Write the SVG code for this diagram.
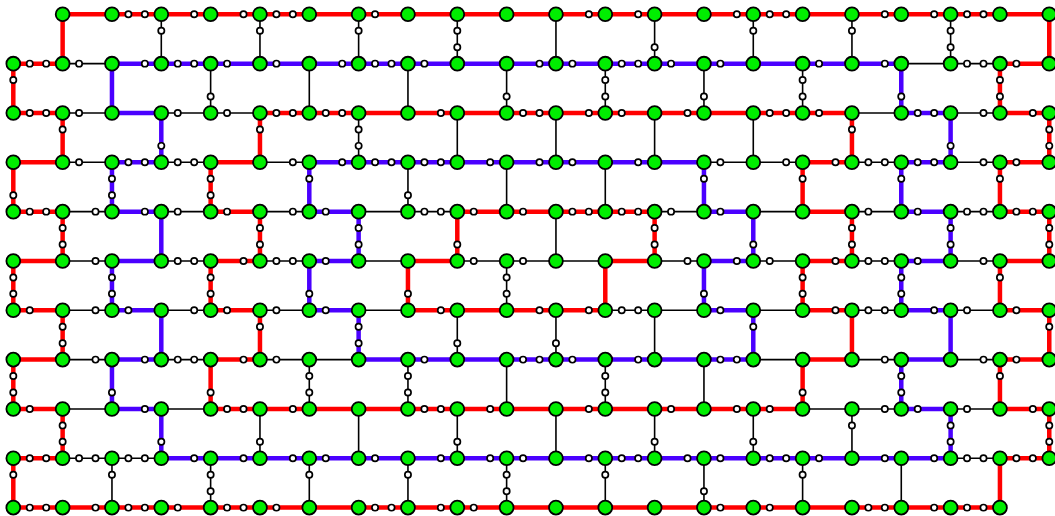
<svg xmlns="http://www.w3.org/2000/svg" width="1055" height="516" viewBox="0 0 1055 516">
<style>
.r,.b,.k{fill:none;vector-effect:non-scaling-stroke;stroke-linecap:butt}
.r{stroke:#ff0000;stroke-width:4.5px}
.b{stroke:#4a00ff;stroke-width:4.5px}
.k{stroke:#000;stroke-width:1.6px}
.big circle{fill:#00ee00;stroke:#000;stroke-width:1.8px;vector-effect:non-scaling-stroke}
.sub circle{fill:#fff;stroke:#000;stroke-width:1.7px;vector-effect:non-scaling-stroke}
</style>
<rect width="1055" height="516" fill="#fff"/>
<g transform="translate(13.3,14.3) scale(16.444)">
<g id="connectors">
<path class="r" d="M3 0h3"/><path class="r" d="M6 0h3"/><path class="r" d="M9 0h3"/><path class="r" d="M12 0h3"/><path class="r" d="M15 0h3"/><path class="r" d="M18 0h3"/><path class="r" d="M21 0h3"/><path class="r" d="M24 0h3"/><path class="r" d="M27 0h3"/><path class="r" d="M30 0h3"/><path class="r" d="M33 0h3"/><path class="r" d="M36 0h3"/><path class="r" d="M39 0h3"/><path class="r" d="M42 0h3"/><path class="r" d="M45 0h3"/><path class="r" d="M48 0h3"/><path class="r" d="M51 0h3"/><path class="r" d="M54 0h3"/><path class="r" d="M57 0h3"/><path class="r" d="M60 0h3"/>
<path class="r" d="M0 3h3"/><path class="k" d="M3 3h3"/><path class="b" d="M6 3h3"/><path class="b" d="M9 3h3"/><path class="b" d="M12 3h3"/><path class="b" d="M15 3h3"/><path class="b" d="M18 3h3"/><path class="b" d="M21 3h3"/><path class="b" d="M24 3h3"/><path class="b" d="M27 3h3"/><path class="b" d="M30 3h3"/><path class="b" d="M33 3h3"/><path class="b" d="M36 3h3"/><path class="b" d="M39 3h3"/><path class="b" d="M42 3h3"/><path class="b" d="M45 3h3"/><path class="b" d="M48 3h3"/><path class="b" d="M51 3h3"/><path class="k" d="M54 3h3"/><path class="k" d="M57 3h3"/><path class="r" d="M60 3h3"/>
<path class="r" d="M0 6h3"/><path class="k" d="M3 6h3"/><path class="b" d="M6 6h3"/><path class="k" d="M9 6h3"/><path class="k" d="M12 6h3"/><path class="r" d="M15 6h3"/><path class="r" d="M18 6h3"/><path class="r" d="M21 6h3"/><path class="r" d="M24 6h3"/><path class="r" d="M27 6h3"/><path class="r" d="M30 6h3"/><path class="r" d="M33 6h3"/><path class="r" d="M36 6h3"/><path class="r" d="M39 6h3"/><path class="r" d="M42 6h3"/><path class="r" d="M45 6h3"/><path class="r" d="M48 6h3"/><path class="k" d="M51 6h3"/><path class="b" d="M54 6h3"/><path class="k" d="M57 6h3"/><path class="r" d="M60 6h3"/>
<path class="r" d="M0 9h3"/><path class="k" d="M3 9h3"/><path class="b" d="M6 9h3"/><path class="k" d="M9 9h3"/><path class="r" d="M12 9h3"/><path class="k" d="M15 9h3"/><path class="b" d="M18 9h3"/><path class="b" d="M21 9h3"/><path class="b" d="M24 9h3"/><path class="b" d="M27 9h3"/><path class="b" d="M30 9h3"/><path class="b" d="M33 9h3"/><path class="b" d="M36 9h3"/><path class="b" d="M39 9h3"/><path class="k" d="M42 9h3"/><path class="k" d="M45 9h3"/><path class="r" d="M48 9h3"/><path class="k" d="M51 9h3"/><path class="b" d="M54 9h3"/><path class="k" d="M57 9h3"/><path class="r" d="M60 9h3"/>
<path class="r" d="M0 12h3"/><path class="k" d="M3 12h3"/><path class="b" d="M6 12h3"/><path class="k" d="M9 12h3"/><path class="r" d="M12 12h3"/><path class="k" d="M15 12h3"/><path class="b" d="M18 12h3"/><path class="k" d="M21 12h3"/><path class="k" d="M24 12h3"/><path class="r" d="M27 12h3"/><path class="r" d="M30 12h3"/><path class="r" d="M33 12h3"/><path class="r" d="M36 12h3"/><path class="k" d="M39 12h3"/><path class="b" d="M42 12h3"/><path class="k" d="M45 12h3"/><path class="r" d="M48 12h3"/><path class="k" d="M51 12h3"/><path class="b" d="M54 12h3"/><path class="k" d="M57 12h3"/><path class="r" d="M60 12h3"/>
<path class="r" d="M0 15h3"/><path class="k" d="M3 15h3"/><path class="b" d="M6 15h3"/><path class="k" d="M9 15h3"/><path class="r" d="M12 15h3"/><path class="k" d="M15 15h3"/><path class="b" d="M18 15h3"/><path class="k" d="M21 15h3"/><path class="r" d="M24 15h3"/><path class="k" d="M27 15h3"/><path class="k" d="M30 15h3"/><path class="k" d="M33 15h3"/><path class="r" d="M36 15h3"/><path class="k" d="M39 15h3"/><path class="b" d="M42 15h3"/><path class="k" d="M45 15h3"/><path class="r" d="M48 15h3"/><path class="k" d="M51 15h3"/><path class="b" d="M54 15h3"/><path class="k" d="M57 15h3"/><path class="r" d="M60 15h3"/>
<path class="r" d="M0 18h3"/><path class="k" d="M3 18h3"/><path class="b" d="M6 18h3"/><path class="k" d="M9 18h3"/><path class="r" d="M12 18h3"/><path class="k" d="M15 18h3"/><path class="b" d="M18 18h3"/><path class="k" d="M21 18h3"/><path class="r" d="M24 18h3"/><path class="r" d="M27 18h3"/><path class="r" d="M30 18h3"/><path class="r" d="M33 18h3"/><path class="k" d="M36 18h3"/><path class="k" d="M39 18h3"/><path class="b" d="M42 18h3"/><path class="k" d="M45 18h3"/><path class="r" d="M48 18h3"/><path class="k" d="M51 18h3"/><path class="b" d="M54 18h3"/><path class="k" d="M57 18h3"/><path class="r" d="M60 18h3"/>
<path class="r" d="M0 21h3"/><path class="k" d="M3 21h3"/><path class="b" d="M6 21h3"/><path class="k" d="M9 21h3"/><path class="r" d="M12 21h3"/><path class="k" d="M15 21h3"/><path class="k" d="M18 21h3"/><path class="b" d="M21 21h3"/><path class="b" d="M24 21h3"/><path class="b" d="M27 21h3"/><path class="b" d="M30 21h3"/><path class="b" d="M33 21h3"/><path class="b" d="M36 21h3"/><path class="b" d="M39 21h3"/><path class="b" d="M42 21h3"/><path class="k" d="M45 21h3"/><path class="r" d="M48 21h3"/><path class="k" d="M51 21h3"/><path class="b" d="M54 21h3"/><path class="k" d="M57 21h3"/><path class="r" d="M60 21h3"/>
<path class="r" d="M0 24h3"/><path class="k" d="M3 24h3"/><path class="b" d="M6 24h3"/><path class="k" d="M9 24h3"/><path class="r" d="M12 24h3"/><path class="r" d="M15 24h3"/><path class="r" d="M18 24h3"/><path class="r" d="M21 24h3"/><path class="r" d="M24 24h3"/><path class="r" d="M27 24h3"/><path class="r" d="M30 24h3"/><path class="r" d="M33 24h3"/><path class="r" d="M36 24h3"/><path class="r" d="M39 24h3"/><path class="r" d="M42 24h3"/><path class="r" d="M45 24h3"/><path class="k" d="M48 24h3"/><path class="k" d="M51 24h3"/><path class="b" d="M54 24h3"/><path class="k" d="M57 24h3"/><path class="r" d="M60 24h3"/>
<path class="r" d="M0 27h3"/><path class="k" d="M3 27h3"/><path class="k" d="M6 27h3"/><path class="b" d="M9 27h3"/><path class="b" d="M12 27h3"/><path class="b" d="M15 27h3"/><path class="b" d="M18 27h3"/><path class="b" d="M21 27h3"/><path class="b" d="M24 27h3"/><path class="b" d="M27 27h3"/><path class="b" d="M30 27h3"/><path class="b" d="M33 27h3"/><path class="b" d="M36 27h3"/><path class="b" d="M39 27h3"/><path class="b" d="M42 27h3"/><path class="b" d="M45 27h3"/><path class="b" d="M48 27h3"/><path class="b" d="M51 27h3"/><path class="b" d="M54 27h3"/><path class="k" d="M57 27h3"/><path class="r" d="M60 27h3"/>
<path class="r" d="M0 30h3"/><path class="r" d="M3 30h3"/><path class="r" d="M6 30h3"/><path class="r" d="M9 30h3"/><path class="r" d="M12 30h3"/><path class="r" d="M15 30h3"/><path class="r" d="M18 30h3"/><path class="r" d="M21 30h3"/><path class="r" d="M24 30h3"/><path class="r" d="M27 30h3"/><path class="r" d="M30 30h3"/><path class="r" d="M33 30h3"/><path class="r" d="M36 30h3"/><path class="r" d="M39 30h3"/><path class="r" d="M42 30h3"/><path class="r" d="M45 30h3"/><path class="r" d="M48 30h3"/><path class="r" d="M51 30h3"/><path class="r" d="M54 30h3"/><path class="r" d="M57 30h3"/>
<path class="r" d="M3 0v3"/><path class="k" d="M9 0v3"/><path class="k" d="M15 0v3"/><path class="k" d="M21 0v3"/><path class="k" d="M27 0v3"/><path class="k" d="M33 0v3"/><path class="k" d="M39 0v3"/><path class="k" d="M45 0v3"/><path class="k" d="M51 0v3"/><path class="k" d="M57 0v3"/><path class="r" d="M63 0v3"/>
<path class="r" d="M0 3v3"/><path class="b" d="M6 3v3"/><path class="k" d="M12 3v3"/><path class="k" d="M18 3v3"/><path class="k" d="M24 3v3"/><path class="k" d="M30 3v3"/><path class="k" d="M36 3v3"/><path class="k" d="M42 3v3"/><path class="k" d="M48 3v3"/><path class="b" d="M54 3v3"/><path class="r" d="M60 3v3"/>
<path class="r" d="M3 6v3"/><path class="b" d="M9 6v3"/><path class="r" d="M15 6v3"/><path class="k" d="M21 6v3"/><path class="k" d="M27 6v3"/><path class="k" d="M33 6v3"/><path class="k" d="M39 6v3"/><path class="k" d="M45 6v3"/><path class="r" d="M51 6v3"/><path class="b" d="M57 6v3"/><path class="r" d="M63 6v3"/>
<path class="r" d="M0 9v3"/><path class="b" d="M6 9v3"/><path class="r" d="M12 9v3"/><path class="b" d="M18 9v3"/><path class="k" d="M24 9v3"/><path class="k" d="M30 9v3"/><path class="k" d="M36 9v3"/><path class="b" d="M42 9v3"/><path class="r" d="M48 9v3"/><path class="b" d="M54 9v3"/><path class="r" d="M60 9v3"/>
<path class="r" d="M3 12v3"/><path class="b" d="M9 12v3"/><path class="r" d="M15 12v3"/><path class="b" d="M21 12v3"/><path class="r" d="M27 12v3"/><path class="k" d="M33 12v3"/><path class="r" d="M39 12v3"/><path class="b" d="M45 12v3"/><path class="r" d="M51 12v3"/><path class="b" d="M57 12v3"/><path class="r" d="M63 12v3"/>
<path class="r" d="M0 15v3"/><path class="b" d="M6 15v3"/><path class="r" d="M12 15v3"/><path class="b" d="M18 15v3"/><path class="r" d="M24 15v3"/><path class="k" d="M30 15v3"/><path class="r" d="M36 15v3"/><path class="b" d="M42 15v3"/><path class="r" d="M48 15v3"/><path class="b" d="M54 15v3"/><path class="r" d="M60 15v3"/>
<path class="r" d="M3 18v3"/><path class="b" d="M9 18v3"/><path class="r" d="M15 18v3"/><path class="b" d="M21 18v3"/><path class="k" d="M27 18v3"/><path class="k" d="M33 18v3"/><path class="k" d="M39 18v3"/><path class="b" d="M45 18v3"/><path class="r" d="M51 18v3"/><path class="b" d="M57 18v3"/><path class="r" d="M63 18v3"/>
<path class="r" d="M0 21v3"/><path class="b" d="M6 21v3"/><path class="r" d="M12 21v3"/><path class="k" d="M18 21v3"/><path class="k" d="M24 21v3"/><path class="k" d="M30 21v3"/><path class="k" d="M36 21v3"/><path class="k" d="M42 21v3"/><path class="r" d="M48 21v3"/><path class="b" d="M54 21v3"/><path class="r" d="M60 21v3"/>
<path class="r" d="M3 24v3"/><path class="b" d="M9 24v3"/><path class="k" d="M15 24v3"/><path class="k" d="M21 24v3"/><path class="k" d="M27 24v3"/><path class="k" d="M33 24v3"/><path class="k" d="M39 24v3"/><path class="k" d="M45 24v3"/><path class="k" d="M51 24v3"/><path class="b" d="M57 24v3"/><path class="r" d="M63 24v3"/>
<path class="r" d="M0 27v3"/><path class="k" d="M6 27v3"/><path class="k" d="M12 27v3"/><path class="k" d="M18 27v3"/><path class="k" d="M24 27v3"/><path class="k" d="M30 27v3"/><path class="k" d="M36 27v3"/><path class="k" d="M42 27v3"/><path class="k" d="M48 27v3"/><path class="k" d="M54 27v3"/><path class="r" d="M60 27v3"/>
</g>
<g id="subnodes" class="sub">
<g id="s7_0"><circle cx="7" cy="0" r=".19"/></g><g id="s8_0"><circle cx="8" cy="0" r=".19"/></g><g id="s11_0"><circle cx="11" cy="0" r=".19"/></g><g id="s14_0"><circle cx="14" cy="0" r=".19"/></g><g id="s16_0"><circle cx="16" cy="0" r=".19"/></g><g id="s17_0"><circle cx="17" cy="0" r=".19"/></g><g id="s22_0"><circle cx="22" cy="0" r=".19"/></g><g id="s35_0"><circle cx="35" cy="0" r=".19"/></g><g id="s38_0"><circle cx="38" cy="0" r=".19"/></g><g id="s44_0"><circle cx="44" cy="0" r=".19"/></g><g id="s46_0"><circle cx="46" cy="0" r=".19"/></g><g id="s47_0"><circle cx="47" cy="0" r=".19"/></g><g id="s53_0"><circle cx="53" cy="0" r=".19"/></g><g id="s56_0"><circle cx="56" cy="0" r=".19"/></g><g id="s58_0"><circle cx="58" cy="0" r=".19"/></g><g id="s59_0"><circle cx="59" cy="0" r=".19"/></g>
<g id="s1_3"><circle cx="1" cy="3" r=".19"/></g><g id="s2_3"><circle cx="2" cy="3" r=".19"/></g><g id="s4_3"><circle cx="4" cy="3" r=".19"/></g><g id="s8_3"><circle cx="8" cy="3" r=".19"/></g><g id="s10_3"><circle cx="10" cy="3" r=".19"/></g><g id="s11_3"><circle cx="11" cy="3" r=".19"/></g><g id="s13_3"><circle cx="13" cy="3" r=".19"/></g><g id="s16_3"><circle cx="16" cy="3" r=".19"/></g><g id="s20_3"><circle cx="20" cy="3" r=".19"/></g><g id="s22_3"><circle cx="22" cy="3" r=".19"/></g><g id="s23_3"><circle cx="23" cy="3" r=".19"/></g><g id="s25_3"><circle cx="25" cy="3" r=".19"/></g><g id="s32_3"><circle cx="32" cy="3" r=".19"/></g><g id="s34_3"><circle cx="34" cy="3" r=".19"/></g><g id="s37_3"><circle cx="37" cy="3" r=".19"/></g><g id="s38_3"><circle cx="38" cy="3" r=".19"/></g><g id="s40_3"><circle cx="40" cy="3" r=".19"/></g><g id="s43_3"><circle cx="43" cy="3" r=".19"/></g><g id="s49_3"><circle cx="49" cy="3" r=".19"/></g><g id="s53_3"><circle cx="53" cy="3" r=".19"/></g><g id="s58_3"><circle cx="58" cy="3" r=".19"/></g><g id="s59_3"><circle cx="59" cy="3" r=".19"/></g><g id="s61_3"><circle cx="61" cy="3" r=".19"/></g>
<g id="s1_6"><circle cx="1" cy="6" r=".19"/></g><g id="s2_6"><circle cx="2" cy="6" r=".19"/></g><g id="s4_6"><circle cx="4" cy="6" r=".19"/></g><g id="s10_6"><circle cx="10" cy="6" r=".19"/></g><g id="s13_6"><circle cx="13" cy="6" r=".19"/></g><g id="s16_6"><circle cx="16" cy="6" r=".19"/></g><g id="s17_6"><circle cx="17" cy="6" r=".19"/></g><g id="s19_6"><circle cx="19" cy="6" r=".19"/></g><g id="s20_6"><circle cx="20" cy="6" r=".19"/></g><g id="s26_6"><circle cx="26" cy="6" r=".19"/></g><g id="s31_6"><circle cx="31" cy="6" r=".19"/></g><g id="s32_6"><circle cx="32" cy="6" r=".19"/></g><g id="s35_6"><circle cx="35" cy="6" r=".19"/></g><g id="s37_6"><circle cx="37" cy="6" r=".19"/></g><g id="s41_6"><circle cx="41" cy="6" r=".19"/></g><g id="s46_6"><circle cx="46" cy="6" r=".19"/></g><g id="s47_6"><circle cx="47" cy="6" r=".19"/></g><g id="s49_6"><circle cx="49" cy="6" r=".19"/></g><g id="s55_6"><circle cx="55" cy="6" r=".19"/></g><g id="s56_6"><circle cx="56" cy="6" r=".19"/></g><g id="s59_6"><circle cx="59" cy="6" r=".19"/></g><g id="s62_6"><circle cx="62" cy="6" r=".19"/></g>
<g id="s4_9"><circle cx="4" cy="9" r=".19"/></g><g id="s7_9"><circle cx="7" cy="9" r=".19"/></g><g id="s8_9"><circle cx="8" cy="9" r=".19"/></g><g id="s10_9"><circle cx="10" cy="9" r=".19"/></g><g id="s11_9"><circle cx="11" cy="9" r=".19"/></g><g id="s17_9"><circle cx="17" cy="9" r=".19"/></g><g id="s20_9"><circle cx="20" cy="9" r=".19"/></g><g id="s22_9"><circle cx="22" cy="9" r=".19"/></g><g id="s23_9"><circle cx="23" cy="9" r=".19"/></g><g id="s25_9"><circle cx="25" cy="9" r=".19"/></g><g id="s26_9"><circle cx="26" cy="9" r=".19"/></g><g id="s29_9"><circle cx="29" cy="9" r=".19"/></g><g id="s32_9"><circle cx="32" cy="9" r=".19"/></g><g id="s34_9"><circle cx="34" cy="9" r=".19"/></g><g id="s38_9"><circle cx="38" cy="9" r=".19"/></g><g id="s43_9"><circle cx="43" cy="9" r=".19"/></g><g id="s47_9"><circle cx="47" cy="9" r=".19"/></g><g id="s50_9"><circle cx="50" cy="9" r=".19"/></g><g id="s52_9"><circle cx="52" cy="9" r=".19"/></g><g id="s53_9"><circle cx="53" cy="9" r=".19"/></g><g id="s55_9"><circle cx="55" cy="9" r=".19"/></g><g id="s56_9"><circle cx="56" cy="9" r=".19"/></g><g id="s59_9"><circle cx="59" cy="9" r=".19"/></g><g id="s61_9"><circle cx="61" cy="9" r=".19"/></g>
<g id="s1_12"><circle cx="1" cy="12" r=".19"/></g><g id="s2_12"><circle cx="2" cy="12" r=".19"/></g><g id="s5_12"><circle cx="5" cy="12" r=".19"/></g><g id="s8_12"><circle cx="8" cy="12" r=".19"/></g><g id="s10_12"><circle cx="10" cy="12" r=".19"/></g><g id="s13_12"><circle cx="13" cy="12" r=".19"/></g><g id="s17_12"><circle cx="17" cy="12" r=".19"/></g><g id="s19_12"><circle cx="19" cy="12" r=".19"/></g><g id="s25_12"><circle cx="25" cy="12" r=".19"/></g><g id="s26_12"><circle cx="26" cy="12" r=".19"/></g><g id="s28_12"><circle cx="28" cy="12" r=".19"/></g><g id="s31_12"><circle cx="31" cy="12" r=".19"/></g><g id="s34_12"><circle cx="34" cy="12" r=".19"/></g><g id="s35_12"><circle cx="35" cy="12" r=".19"/></g><g id="s37_12"><circle cx="37" cy="12" r=".19"/></g><g id="s38_12"><circle cx="38" cy="12" r=".19"/></g><g id="s40_12"><circle cx="40" cy="12" r=".19"/></g><g id="s43_12"><circle cx="43" cy="12" r=".19"/></g><g id="s52_12"><circle cx="52" cy="12" r=".19"/></g><g id="s55_12"><circle cx="55" cy="12" r=".19"/></g><g id="s58_12"><circle cx="58" cy="12" r=".19"/></g><g id="s59_12"><circle cx="59" cy="12" r=".19"/></g><g id="s61_12"><circle cx="61" cy="12" r=".19"/></g><g id="s62_12"><circle cx="62" cy="12" r=".19"/></g>
<g id="s5_15"><circle cx="5" cy="15" r=".19"/></g><g id="s10_15"><circle cx="10" cy="15" r=".19"/></g><g id="s11_15"><circle cx="11" cy="15" r=".19"/></g><g id="s14_15"><circle cx="14" cy="15" r=".19"/></g><g id="s16_15"><circle cx="16" cy="15" r=".19"/></g><g id="s17_15"><circle cx="17" cy="15" r=".19"/></g><g id="s19_15"><circle cx="19" cy="15" r=".19"/></g><g id="s28_15"><circle cx="28" cy="15" r=".19"/></g><g id="s31_15"><circle cx="31" cy="15" r=".19"/></g><g id="s41_15"><circle cx="41" cy="15" r=".19"/></g><g id="s44_15"><circle cx="44" cy="15" r=".19"/></g><g id="s46_15"><circle cx="46" cy="15" r=".19"/></g><g id="s50_15"><circle cx="50" cy="15" r=".19"/></g><g id="s52_15"><circle cx="52" cy="15" r=".19"/></g><g id="s53_15"><circle cx="53" cy="15" r=".19"/></g><g id="s55_15"><circle cx="55" cy="15" r=".19"/></g><g id="s59_15"><circle cx="59" cy="15" r=".19"/></g>
<g id="s1_18"><circle cx="1" cy="18" r=".19"/></g><g id="s5_18"><circle cx="5" cy="18" r=".19"/></g><g id="s7_18"><circle cx="7" cy="18" r=".19"/></g><g id="s11_18"><circle cx="11" cy="18" r=".19"/></g><g id="s13_18"><circle cx="13" cy="18" r=".19"/></g><g id="s16_18"><circle cx="16" cy="18" r=".19"/></g><g id="s19_18"><circle cx="19" cy="18" r=".19"/></g><g id="s26_18"><circle cx="26" cy="18" r=".19"/></g><g id="s32_18"><circle cx="32" cy="18" r=".19"/></g><g id="s35_18"><circle cx="35" cy="18" r=".19"/></g><g id="s37_18"><circle cx="37" cy="18" r=".19"/></g><g id="s38_18"><circle cx="38" cy="18" r=".19"/></g><g id="s43_18"><circle cx="43" cy="18" r=".19"/></g><g id="s50_18"><circle cx="50" cy="18" r=".19"/></g><g id="s52_18"><circle cx="52" cy="18" r=".19"/></g><g id="s53_18"><circle cx="53" cy="18" r=".19"/></g><g id="s56_18"><circle cx="56" cy="18" r=".19"/></g><g id="s58_18"><circle cx="58" cy="18" r=".19"/></g><g id="s61_18"><circle cx="61" cy="18" r=".19"/></g>
<g id="s5_21"><circle cx="5" cy="21" r=".19"/></g><g id="s8_21"><circle cx="8" cy="21" r=".19"/></g><g id="s10_21"><circle cx="10" cy="21" r=".19"/></g><g id="s11_21"><circle cx="11" cy="21" r=".19"/></g><g id="s14_21"><circle cx="14" cy="21" r=".19"/></g><g id="s16_21"><circle cx="16" cy="21" r=".19"/></g><g id="s25_21"><circle cx="25" cy="21" r=".19"/></g><g id="s31_21"><circle cx="31" cy="21" r=".19"/></g><g id="s32_21"><circle cx="32" cy="21" r=".19"/></g><g id="s34_21"><circle cx="34" cy="21" r=".19"/></g><g id="s38_21"><circle cx="38" cy="21" r=".19"/></g><g id="s43_21"><circle cx="43" cy="21" r=".19"/></g><g id="s44_21"><circle cx="44" cy="21" r=".19"/></g><g id="s53_21"><circle cx="53" cy="21" r=".19"/></g><g id="s59_21"><circle cx="59" cy="21" r=".19"/></g><g id="s61_21"><circle cx="61" cy="21" r=".19"/></g>
<g id="s1_24"><circle cx="1" cy="24" r=".19"/></g><g id="s8_24"><circle cx="8" cy="24" r=".19"/></g><g id="s13_24"><circle cx="13" cy="24" r=".19"/></g><g id="s14_24"><circle cx="14" cy="24" r=".19"/></g><g id="s17_24"><circle cx="17" cy="24" r=".19"/></g><g id="s25_24"><circle cx="25" cy="24" r=".19"/></g><g id="s26_24"><circle cx="26" cy="24" r=".19"/></g><g id="s29_24"><circle cx="29" cy="24" r=".19"/></g><g id="s35_24"><circle cx="35" cy="24" r=".19"/></g><g id="s40_24"><circle cx="40" cy="24" r=".19"/></g><g id="s44_24"><circle cx="44" cy="24" r=".19"/></g><g id="s46_24"><circle cx="46" cy="24" r=".19"/></g><g id="s53_24"><circle cx="53" cy="24" r=".19"/></g><g id="s55_24"><circle cx="55" cy="24" r=".19"/></g><g id="s58_24"><circle cx="58" cy="24" r=".19"/></g><g id="s62_24"><circle cx="62" cy="24" r=".19"/></g>
<g id="s1_27"><circle cx="1" cy="27" r=".19"/></g><g id="s2_27"><circle cx="2" cy="27" r=".19"/></g><g id="s4_27"><circle cx="4" cy="27" r=".19"/></g><g id="s5_27"><circle cx="5" cy="27" r=".19"/></g><g id="s7_27"><circle cx="7" cy="27" r=".19"/></g><g id="s8_27"><circle cx="8" cy="27" r=".19"/></g><g id="s11_27"><circle cx="11" cy="27" r=".19"/></g><g id="s14_27"><circle cx="14" cy="27" r=".19"/></g><g id="s17_27"><circle cx="17" cy="27" r=".19"/></g><g id="s19_27"><circle cx="19" cy="27" r=".19"/></g><g id="s22_27"><circle cx="22" cy="27" r=".19"/></g><g id="s26_27"><circle cx="26" cy="27" r=".19"/></g><g id="s29_27"><circle cx="29" cy="27" r=".19"/></g><g id="s31_27"><circle cx="31" cy="27" r=".19"/></g><g id="s35_27"><circle cx="35" cy="27" r=".19"/></g><g id="s37_27"><circle cx="37" cy="27" r=".19"/></g><g id="s38_27"><circle cx="38" cy="27" r=".19"/></g><g id="s41_27"><circle cx="41" cy="27" r=".19"/></g><g id="s43_27"><circle cx="43" cy="27" r=".19"/></g><g id="s46_27"><circle cx="46" cy="27" r=".19"/></g><g id="s47_27"><circle cx="47" cy="27" r=".19"/></g><g id="s49_27"><circle cx="49" cy="27" r=".19"/></g><g id="s53_27"><circle cx="53" cy="27" r=".19"/></g><g id="s56_27"><circle cx="56" cy="27" r=".19"/></g><g id="s58_27"><circle cx="58" cy="27" r=".19"/></g><g id="s59_27"><circle cx="59" cy="27" r=".19"/></g><g id="s61_27"><circle cx="61" cy="27" r=".19"/></g><g id="s62_27"><circle cx="62" cy="27" r=".19"/></g>
<g id="s1_30"><circle cx="1" cy="30" r=".19"/></g><g id="s2_30"><circle cx="2" cy="30" r=".19"/></g><g id="s5_30"><circle cx="5" cy="30" r=".19"/></g><g id="s7_30"><circle cx="7" cy="30" r=".19"/></g><g id="s8_30"><circle cx="8" cy="30" r=".19"/></g><g id="s10_30"><circle cx="10" cy="30" r=".19"/></g><g id="s13_30"><circle cx="13" cy="30" r=".19"/></g><g id="s14_30"><circle cx="14" cy="30" r=".19"/></g><g id="s16_30"><circle cx="16" cy="30" r=".19"/></g><g id="s22_30"><circle cx="22" cy="30" r=".19"/></g><g id="s23_30"><circle cx="23" cy="30" r=".19"/></g><g id="s26_30"><circle cx="26" cy="30" r=".19"/></g><g id="s28_30"><circle cx="28" cy="30" r=".19"/></g><g id="s43_30"><circle cx="43" cy="30" r=".19"/></g><g id="s46_30"><circle cx="46" cy="30" r=".19"/></g><g id="s52_30"><circle cx="52" cy="30" r=".19"/></g><g id="s53_30"><circle cx="53" cy="30" r=".19"/></g><g id="s56_30"><circle cx="56" cy="30" r=".19"/></g><g id="s58_30"><circle cx="58" cy="30" r=".19"/></g><g id="s59_30"><circle cx="59" cy="30" r=".19"/></g>
<g id="s9_1"><circle cx="9" cy="1" r=".19"/></g><g id="s15_1"><circle cx="15" cy="1" r=".19"/></g><g id="s21_1"><circle cx="21" cy="1" r=".19"/></g><g id="s27_1"><circle cx="27" cy="1" r=".19"/></g><g id="s27_2"><circle cx="27" cy="2" r=".19"/></g><g id="s39_2"><circle cx="39" cy="2" r=".19"/></g><g id="s45_1"><circle cx="45" cy="1" r=".19"/></g><g id="s51_1"><circle cx="51" cy="1" r=".19"/></g><g id="s57_1"><circle cx="57" cy="1" r=".19"/></g><g id="s57_2"><circle cx="57" cy="2" r=".19"/></g>
<g id="s0_4"><circle cx="0" cy="4" r=".19"/></g><g id="s12_5"><circle cx="12" cy="5" r=".19"/></g><g id="s30_5"><circle cx="30" cy="5" r=".19"/></g><g id="s36_4"><circle cx="36" cy="4" r=".19"/></g><g id="s36_5"><circle cx="36" cy="5" r=".19"/></g><g id="s42_5"><circle cx="42" cy="5" r=".19"/></g><g id="s48_4"><circle cx="48" cy="4" r=".19"/></g><g id="s48_5"><circle cx="48" cy="5" r=".19"/></g><g id="s54_5"><circle cx="54" cy="5" r=".19"/></g><g id="s60_4"><circle cx="60" cy="4" r=".19"/></g><g id="s60_5"><circle cx="60" cy="5" r=".19"/></g>
<g id="s3_7"><circle cx="3" cy="7" r=".19"/></g><g id="s9_8"><circle cx="9" cy="8" r=".19"/></g><g id="s15_7"><circle cx="15" cy="7" r=".19"/></g><g id="s21_7"><circle cx="21" cy="7" r=".19"/></g><g id="s21_8"><circle cx="21" cy="8" r=".19"/></g><g id="s51_7"><circle cx="51" cy="7" r=".19"/></g><g id="s57_8"><circle cx="57" cy="8" r=".19"/></g><g id="s63_7"><circle cx="63" cy="7" r=".19"/></g><g id="s63_8"><circle cx="63" cy="8" r=".19"/></g>
<g id="s0_11"><circle cx="0" cy="11" r=".19"/></g><g id="s6_10"><circle cx="6" cy="10" r=".19"/></g><g id="s6_11"><circle cx="6" cy="11" r=".19"/></g><g id="s12_10"><circle cx="12" cy="10" r=".19"/></g><g id="s12_11"><circle cx="12" cy="11" r=".19"/></g><g id="s18_10"><circle cx="18" cy="10" r=".19"/></g><g id="s24_11"><circle cx="24" cy="11" r=".19"/></g><g id="s42_10"><circle cx="42" cy="10" r=".19"/></g><g id="s48_10"><circle cx="48" cy="10" r=".19"/></g><g id="s54_10"><circle cx="54" cy="10" r=".19"/></g><g id="s60_10"><circle cx="60" cy="10" r=".19"/></g>
<g id="s3_13"><circle cx="3" cy="13" r=".19"/></g><g id="s3_14"><circle cx="3" cy="14" r=".19"/></g><g id="s15_13"><circle cx="15" cy="13" r=".19"/></g><g id="s15_14"><circle cx="15" cy="14" r=".19"/></g><g id="s21_13"><circle cx="21" cy="13" r=".19"/></g><g id="s21_14"><circle cx="21" cy="14" r=".19"/></g><g id="s27_14"><circle cx="27" cy="14" r=".19"/></g><g id="s39_13"><circle cx="39" cy="13" r=".19"/></g><g id="s39_14"><circle cx="39" cy="14" r=".19"/></g><g id="s45_14"><circle cx="45" cy="14" r=".19"/></g><g id="s51_13"><circle cx="51" cy="13" r=".19"/></g><g id="s51_14"><circle cx="51" cy="14" r=".19"/></g><g id="s57_13"><circle cx="57" cy="13" r=".19"/></g><g id="s57_14"><circle cx="57" cy="14" r=".19"/></g><g id="s63_13"><circle cx="63" cy="13" r=".19"/></g><g id="s63_14"><circle cx="63" cy="14" r=".19"/></g>
<g id="s0_16"><circle cx="0" cy="16" r=".19"/></g><g id="s0_17"><circle cx="0" cy="17" r=".19"/></g><g id="s6_16"><circle cx="6" cy="16" r=".19"/></g><g id="s6_17"><circle cx="6" cy="17" r=".19"/></g><g id="s12_16"><circle cx="12" cy="16" r=".19"/></g><g id="s12_17"><circle cx="12" cy="17" r=".19"/></g><g id="s18_17"><circle cx="18" cy="17" r=".19"/></g><g id="s24_17"><circle cx="24" cy="17" r=".19"/></g><g id="s30_16"><circle cx="30" cy="16" r=".19"/></g><g id="s30_17"><circle cx="30" cy="17" r=".19"/></g><g id="s42_17"><circle cx="42" cy="17" r=".19"/></g><g id="s48_16"><circle cx="48" cy="16" r=".19"/></g><g id="s48_17"><circle cx="48" cy="17" r=".19"/></g><g id="s54_16"><circle cx="54" cy="16" r=".19"/></g><g id="s54_17"><circle cx="54" cy="17" r=".19"/></g><g id="s60_16"><circle cx="60" cy="16" r=".19"/></g>
<g id="s3_19"><circle cx="3" cy="19" r=".19"/></g><g id="s3_20"><circle cx="3" cy="20" r=".19"/></g><g id="s15_19"><circle cx="15" cy="19" r=".19"/></g><g id="s21_19"><circle cx="21" cy="19" r=".19"/></g><g id="s21_20"><circle cx="21" cy="20" r=".19"/></g><g id="s27_20"><circle cx="27" cy="20" r=".19"/></g><g id="s33_20"><circle cx="33" cy="20" r=".19"/></g><g id="s45_19"><circle cx="45" cy="19" r=".19"/></g><g id="s63_19"><circle cx="63" cy="19" r=".19"/></g>
<g id="s0_22"><circle cx="0" cy="22" r=".19"/></g><g id="s0_23"><circle cx="0" cy="23" r=".19"/></g><g id="s6_23"><circle cx="6" cy="23" r=".19"/></g><g id="s12_23"><circle cx="12" cy="23" r=".19"/></g><g id="s18_22"><circle cx="18" cy="22" r=".19"/></g><g id="s18_23"><circle cx="18" cy="23" r=".19"/></g><g id="s24_22"><circle cx="24" cy="22" r=".19"/></g><g id="s24_23"><circle cx="24" cy="23" r=".19"/></g><g id="s36_22"><circle cx="36" cy="22" r=".19"/></g><g id="s36_23"><circle cx="36" cy="23" r=".19"/></g><g id="s48_23"><circle cx="48" cy="23" r=".19"/></g><g id="s54_22"><circle cx="54" cy="22" r=".19"/></g><g id="s54_23"><circle cx="54" cy="23" r=".19"/></g><g id="s60_22"><circle cx="60" cy="22" r=".19"/></g>
<g id="s3_25"><circle cx="3" cy="25" r=".19"/></g><g id="s3_26"><circle cx="3" cy="26" r=".19"/></g><g id="s9_26"><circle cx="9" cy="26" r=".19"/></g><g id="s15_26"><circle cx="15" cy="26" r=".19"/></g><g id="s27_26"><circle cx="27" cy="26" r=".19"/></g><g id="s39_26"><circle cx="39" cy="26" r=".19"/></g><g id="s45_26"><circle cx="45" cy="26" r=".19"/></g><g id="s51_25"><circle cx="51" cy="25" r=".19"/></g><g id="s57_25"><circle cx="57" cy="25" r=".19"/></g><g id="s57_26"><circle cx="57" cy="26" r=".19"/></g><g id="s63_25"><circle cx="63" cy="25" r=".19"/></g><g id="s63_26"><circle cx="63" cy="26" r=".19"/></g>
<g id="s0_28"><circle cx="0" cy="28" r=".19"/></g><g id="s6_28"><circle cx="6" cy="28" r=".19"/></g><g id="s12_28"><circle cx="12" cy="28" r=".19"/></g><g id="s12_29"><circle cx="12" cy="29" r=".19"/></g><g id="s18_28"><circle cx="18" cy="28" r=".19"/></g><g id="s24_28"><circle cx="24" cy="28" r=".19"/></g><g id="s30_28"><circle cx="30" cy="28" r=".19"/></g><g id="s30_29"><circle cx="30" cy="29" r=".19"/></g><g id="s36_28"><circle cx="36" cy="28" r=".19"/></g><g id="s42_29"><circle cx="42" cy="29" r=".19"/></g><g id="s48_28"><circle cx="48" cy="28" r=".19"/></g>
</g>
<g id="nodes" class="big">
<g id="n1_0"><circle cx="3" cy="0" r=".42"/></g><g id="n2_0"><circle cx="6" cy="0" r=".42"/></g><g id="n3_0"><circle cx="9" cy="0" r=".42"/></g><g id="n4_0"><circle cx="12" cy="0" r=".42"/></g><g id="n5_0"><circle cx="15" cy="0" r=".42"/></g><g id="n6_0"><circle cx="18" cy="0" r=".42"/></g><g id="n7_0"><circle cx="21" cy="0" r=".42"/></g><g id="n8_0"><circle cx="24" cy="0" r=".42"/></g><g id="n9_0"><circle cx="27" cy="0" r=".42"/></g><g id="n10_0"><circle cx="30" cy="0" r=".42"/></g><g id="n11_0"><circle cx="33" cy="0" r=".42"/></g><g id="n12_0"><circle cx="36" cy="0" r=".42"/></g><g id="n13_0"><circle cx="39" cy="0" r=".42"/></g><g id="n14_0"><circle cx="42" cy="0" r=".42"/></g><g id="n15_0"><circle cx="45" cy="0" r=".42"/></g><g id="n16_0"><circle cx="48" cy="0" r=".42"/></g><g id="n17_0"><circle cx="51" cy="0" r=".42"/></g><g id="n18_0"><circle cx="54" cy="0" r=".42"/></g><g id="n19_0"><circle cx="57" cy="0" r=".42"/></g><g id="n20_0"><circle cx="60" cy="0" r=".42"/></g><g id="n21_0"><circle cx="63" cy="0" r=".42"/></g>
<g id="n0_1"><circle cx="0" cy="3" r=".42"/></g><g id="n1_1"><circle cx="3" cy="3" r=".42"/></g><g id="n2_1"><circle cx="6" cy="3" r=".42"/></g><g id="n3_1"><circle cx="9" cy="3" r=".42"/></g><g id="n4_1"><circle cx="12" cy="3" r=".42"/></g><g id="n5_1"><circle cx="15" cy="3" r=".42"/></g><g id="n6_1"><circle cx="18" cy="3" r=".42"/></g><g id="n7_1"><circle cx="21" cy="3" r=".42"/></g><g id="n8_1"><circle cx="24" cy="3" r=".42"/></g><g id="n9_1"><circle cx="27" cy="3" r=".42"/></g><g id="n10_1"><circle cx="30" cy="3" r=".42"/></g><g id="n11_1"><circle cx="33" cy="3" r=".42"/></g><g id="n12_1"><circle cx="36" cy="3" r=".42"/></g><g id="n13_1"><circle cx="39" cy="3" r=".42"/></g><g id="n14_1"><circle cx="42" cy="3" r=".42"/></g><g id="n15_1"><circle cx="45" cy="3" r=".42"/></g><g id="n16_1"><circle cx="48" cy="3" r=".42"/></g><g id="n17_1"><circle cx="51" cy="3" r=".42"/></g><g id="n18_1"><circle cx="54" cy="3" r=".42"/></g><g id="n19_1"><circle cx="57" cy="3" r=".42"/></g><g id="n20_1"><circle cx="60" cy="3" r=".42"/></g><g id="n21_1"><circle cx="63" cy="3" r=".42"/></g>
<g id="n0_2"><circle cx="0" cy="6" r=".42"/></g><g id="n1_2"><circle cx="3" cy="6" r=".42"/></g><g id="n2_2"><circle cx="6" cy="6" r=".42"/></g><g id="n3_2"><circle cx="9" cy="6" r=".42"/></g><g id="n4_2"><circle cx="12" cy="6" r=".42"/></g><g id="n5_2"><circle cx="15" cy="6" r=".42"/></g><g id="n6_2"><circle cx="18" cy="6" r=".42"/></g><g id="n7_2"><circle cx="21" cy="6" r=".42"/></g><g id="n8_2"><circle cx="24" cy="6" r=".42"/></g><g id="n9_2"><circle cx="27" cy="6" r=".42"/></g><g id="n10_2"><circle cx="30" cy="6" r=".42"/></g><g id="n11_2"><circle cx="33" cy="6" r=".42"/></g><g id="n12_2"><circle cx="36" cy="6" r=".42"/></g><g id="n13_2"><circle cx="39" cy="6" r=".42"/></g><g id="n14_2"><circle cx="42" cy="6" r=".42"/></g><g id="n15_2"><circle cx="45" cy="6" r=".42"/></g><g id="n16_2"><circle cx="48" cy="6" r=".42"/></g><g id="n17_2"><circle cx="51" cy="6" r=".42"/></g><g id="n18_2"><circle cx="54" cy="6" r=".42"/></g><g id="n19_2"><circle cx="57" cy="6" r=".42"/></g><g id="n20_2"><circle cx="60" cy="6" r=".42"/></g><g id="n21_2"><circle cx="63" cy="6" r=".42"/></g>
<g id="n0_3"><circle cx="0" cy="9" r=".42"/></g><g id="n1_3"><circle cx="3" cy="9" r=".42"/></g><g id="n2_3"><circle cx="6" cy="9" r=".42"/></g><g id="n3_3"><circle cx="9" cy="9" r=".42"/></g><g id="n4_3"><circle cx="12" cy="9" r=".42"/></g><g id="n5_3"><circle cx="15" cy="9" r=".42"/></g><g id="n6_3"><circle cx="18" cy="9" r=".42"/></g><g id="n7_3"><circle cx="21" cy="9" r=".42"/></g><g id="n8_3"><circle cx="24" cy="9" r=".42"/></g><g id="n9_3"><circle cx="27" cy="9" r=".42"/></g><g id="n10_3"><circle cx="30" cy="9" r=".42"/></g><g id="n11_3"><circle cx="33" cy="9" r=".42"/></g><g id="n12_3"><circle cx="36" cy="9" r=".42"/></g><g id="n13_3"><circle cx="39" cy="9" r=".42"/></g><g id="n14_3"><circle cx="42" cy="9" r=".42"/></g><g id="n15_3"><circle cx="45" cy="9" r=".42"/></g><g id="n16_3"><circle cx="48" cy="9" r=".42"/></g><g id="n17_3"><circle cx="51" cy="9" r=".42"/></g><g id="n18_3"><circle cx="54" cy="9" r=".42"/></g><g id="n19_3"><circle cx="57" cy="9" r=".42"/></g><g id="n20_3"><circle cx="60" cy="9" r=".42"/></g><g id="n21_3"><circle cx="63" cy="9" r=".42"/></g>
<g id="n0_4"><circle cx="0" cy="12" r=".42"/></g><g id="n1_4"><circle cx="3" cy="12" r=".42"/></g><g id="n2_4"><circle cx="6" cy="12" r=".42"/></g><g id="n3_4"><circle cx="9" cy="12" r=".42"/></g><g id="n4_4"><circle cx="12" cy="12" r=".42"/></g><g id="n5_4"><circle cx="15" cy="12" r=".42"/></g><g id="n6_4"><circle cx="18" cy="12" r=".42"/></g><g id="n7_4"><circle cx="21" cy="12" r=".42"/></g><g id="n8_4"><circle cx="24" cy="12" r=".42"/></g><g id="n9_4"><circle cx="27" cy="12" r=".42"/></g><g id="n10_4"><circle cx="30" cy="12" r=".42"/></g><g id="n11_4"><circle cx="33" cy="12" r=".42"/></g><g id="n12_4"><circle cx="36" cy="12" r=".42"/></g><g id="n13_4"><circle cx="39" cy="12" r=".42"/></g><g id="n14_4"><circle cx="42" cy="12" r=".42"/></g><g id="n15_4"><circle cx="45" cy="12" r=".42"/></g><g id="n16_4"><circle cx="48" cy="12" r=".42"/></g><g id="n17_4"><circle cx="51" cy="12" r=".42"/></g><g id="n18_4"><circle cx="54" cy="12" r=".42"/></g><g id="n19_4"><circle cx="57" cy="12" r=".42"/></g><g id="n20_4"><circle cx="60" cy="12" r=".42"/></g><g id="n21_4"><circle cx="63" cy="12" r=".42"/></g>
<g id="n0_5"><circle cx="0" cy="15" r=".42"/></g><g id="n1_5"><circle cx="3" cy="15" r=".42"/></g><g id="n2_5"><circle cx="6" cy="15" r=".42"/></g><g id="n3_5"><circle cx="9" cy="15" r=".42"/></g><g id="n4_5"><circle cx="12" cy="15" r=".42"/></g><g id="n5_5"><circle cx="15" cy="15" r=".42"/></g><g id="n6_5"><circle cx="18" cy="15" r=".42"/></g><g id="n7_5"><circle cx="21" cy="15" r=".42"/></g><g id="n8_5"><circle cx="24" cy="15" r=".42"/></g><g id="n9_5"><circle cx="27" cy="15" r=".42"/></g><g id="n10_5"><circle cx="30" cy="15" r=".42"/></g><g id="n11_5"><circle cx="33" cy="15" r=".42"/></g><g id="n12_5"><circle cx="36" cy="15" r=".42"/></g><g id="n13_5"><circle cx="39" cy="15" r=".42"/></g><g id="n14_5"><circle cx="42" cy="15" r=".42"/></g><g id="n15_5"><circle cx="45" cy="15" r=".42"/></g><g id="n16_5"><circle cx="48" cy="15" r=".42"/></g><g id="n17_5"><circle cx="51" cy="15" r=".42"/></g><g id="n18_5"><circle cx="54" cy="15" r=".42"/></g><g id="n19_5"><circle cx="57" cy="15" r=".42"/></g><g id="n20_5"><circle cx="60" cy="15" r=".42"/></g><g id="n21_5"><circle cx="63" cy="15" r=".42"/></g>
<g id="n0_6"><circle cx="0" cy="18" r=".42"/></g><g id="n1_6"><circle cx="3" cy="18" r=".42"/></g><g id="n2_6"><circle cx="6" cy="18" r=".42"/></g><g id="n3_6"><circle cx="9" cy="18" r=".42"/></g><g id="n4_6"><circle cx="12" cy="18" r=".42"/></g><g id="n5_6"><circle cx="15" cy="18" r=".42"/></g><g id="n6_6"><circle cx="18" cy="18" r=".42"/></g><g id="n7_6"><circle cx="21" cy="18" r=".42"/></g><g id="n8_6"><circle cx="24" cy="18" r=".42"/></g><g id="n9_6"><circle cx="27" cy="18" r=".42"/></g><g id="n10_6"><circle cx="30" cy="18" r=".42"/></g><g id="n11_6"><circle cx="33" cy="18" r=".42"/></g><g id="n12_6"><circle cx="36" cy="18" r=".42"/></g><g id="n13_6"><circle cx="39" cy="18" r=".42"/></g><g id="n14_6"><circle cx="42" cy="18" r=".42"/></g><g id="n15_6"><circle cx="45" cy="18" r=".42"/></g><g id="n16_6"><circle cx="48" cy="18" r=".42"/></g><g id="n17_6"><circle cx="51" cy="18" r=".42"/></g><g id="n18_6"><circle cx="54" cy="18" r=".42"/></g><g id="n19_6"><circle cx="57" cy="18" r=".42"/></g><g id="n20_6"><circle cx="60" cy="18" r=".42"/></g><g id="n21_6"><circle cx="63" cy="18" r=".42"/></g>
<g id="n0_7"><circle cx="0" cy="21" r=".42"/></g><g id="n1_7"><circle cx="3" cy="21" r=".42"/></g><g id="n2_7"><circle cx="6" cy="21" r=".42"/></g><g id="n3_7"><circle cx="9" cy="21" r=".42"/></g><g id="n4_7"><circle cx="12" cy="21" r=".42"/></g><g id="n5_7"><circle cx="15" cy="21" r=".42"/></g><g id="n6_7"><circle cx="18" cy="21" r=".42"/></g><g id="n7_7"><circle cx="21" cy="21" r=".42"/></g><g id="n8_7"><circle cx="24" cy="21" r=".42"/></g><g id="n9_7"><circle cx="27" cy="21" r=".42"/></g><g id="n10_7"><circle cx="30" cy="21" r=".42"/></g><g id="n11_7"><circle cx="33" cy="21" r=".42"/></g><g id="n12_7"><circle cx="36" cy="21" r=".42"/></g><g id="n13_7"><circle cx="39" cy="21" r=".42"/></g><g id="n14_7"><circle cx="42" cy="21" r=".42"/></g><g id="n15_7"><circle cx="45" cy="21" r=".42"/></g><g id="n16_7"><circle cx="48" cy="21" r=".42"/></g><g id="n17_7"><circle cx="51" cy="21" r=".42"/></g><g id="n18_7"><circle cx="54" cy="21" r=".42"/></g><g id="n19_7"><circle cx="57" cy="21" r=".42"/></g><g id="n20_7"><circle cx="60" cy="21" r=".42"/></g><g id="n21_7"><circle cx="63" cy="21" r=".42"/></g>
<g id="n0_8"><circle cx="0" cy="24" r=".42"/></g><g id="n1_8"><circle cx="3" cy="24" r=".42"/></g><g id="n2_8"><circle cx="6" cy="24" r=".42"/></g><g id="n3_8"><circle cx="9" cy="24" r=".42"/></g><g id="n4_8"><circle cx="12" cy="24" r=".42"/></g><g id="n5_8"><circle cx="15" cy="24" r=".42"/></g><g id="n6_8"><circle cx="18" cy="24" r=".42"/></g><g id="n7_8"><circle cx="21" cy="24" r=".42"/></g><g id="n8_8"><circle cx="24" cy="24" r=".42"/></g><g id="n9_8"><circle cx="27" cy="24" r=".42"/></g><g id="n10_8"><circle cx="30" cy="24" r=".42"/></g><g id="n11_8"><circle cx="33" cy="24" r=".42"/></g><g id="n12_8"><circle cx="36" cy="24" r=".42"/></g><g id="n13_8"><circle cx="39" cy="24" r=".42"/></g><g id="n14_8"><circle cx="42" cy="24" r=".42"/></g><g id="n15_8"><circle cx="45" cy="24" r=".42"/></g><g id="n16_8"><circle cx="48" cy="24" r=".42"/></g><g id="n17_8"><circle cx="51" cy="24" r=".42"/></g><g id="n18_8"><circle cx="54" cy="24" r=".42"/></g><g id="n19_8"><circle cx="57" cy="24" r=".42"/></g><g id="n20_8"><circle cx="60" cy="24" r=".42"/></g><g id="n21_8"><circle cx="63" cy="24" r=".42"/></g>
<g id="n0_9"><circle cx="0" cy="27" r=".42"/></g><g id="n1_9"><circle cx="3" cy="27" r=".42"/></g><g id="n2_9"><circle cx="6" cy="27" r=".42"/></g><g id="n3_9"><circle cx="9" cy="27" r=".42"/></g><g id="n4_9"><circle cx="12" cy="27" r=".42"/></g><g id="n5_9"><circle cx="15" cy="27" r=".42"/></g><g id="n6_9"><circle cx="18" cy="27" r=".42"/></g><g id="n7_9"><circle cx="21" cy="27" r=".42"/></g><g id="n8_9"><circle cx="24" cy="27" r=".42"/></g><g id="n9_9"><circle cx="27" cy="27" r=".42"/></g><g id="n10_9"><circle cx="30" cy="27" r=".42"/></g><g id="n11_9"><circle cx="33" cy="27" r=".42"/></g><g id="n12_9"><circle cx="36" cy="27" r=".42"/></g><g id="n13_9"><circle cx="39" cy="27" r=".42"/></g><g id="n14_9"><circle cx="42" cy="27" r=".42"/></g><g id="n15_9"><circle cx="45" cy="27" r=".42"/></g><g id="n16_9"><circle cx="48" cy="27" r=".42"/></g><g id="n17_9"><circle cx="51" cy="27" r=".42"/></g><g id="n18_9"><circle cx="54" cy="27" r=".42"/></g><g id="n19_9"><circle cx="57" cy="27" r=".42"/></g><g id="n20_9"><circle cx="60" cy="27" r=".42"/></g><g id="n21_9"><circle cx="63" cy="27" r=".42"/></g>
<g id="n0_10"><circle cx="0" cy="30" r=".42"/></g><g id="n1_10"><circle cx="3" cy="30" r=".42"/></g><g id="n2_10"><circle cx="6" cy="30" r=".42"/></g><g id="n3_10"><circle cx="9" cy="30" r=".42"/></g><g id="n4_10"><circle cx="12" cy="30" r=".42"/></g><g id="n5_10"><circle cx="15" cy="30" r=".42"/></g><g id="n6_10"><circle cx="18" cy="30" r=".42"/></g><g id="n7_10"><circle cx="21" cy="30" r=".42"/></g><g id="n8_10"><circle cx="24" cy="30" r=".42"/></g><g id="n9_10"><circle cx="27" cy="30" r=".42"/></g><g id="n10_10"><circle cx="30" cy="30" r=".42"/></g><g id="n11_10"><circle cx="33" cy="30" r=".42"/></g><g id="n12_10"><circle cx="36" cy="30" r=".42"/></g><g id="n13_10"><circle cx="39" cy="30" r=".42"/></g><g id="n14_10"><circle cx="42" cy="30" r=".42"/></g><g id="n15_10"><circle cx="45" cy="30" r=".42"/></g><g id="n16_10"><circle cx="48" cy="30" r=".42"/></g><g id="n17_10"><circle cx="51" cy="30" r=".42"/></g><g id="n18_10"><circle cx="54" cy="30" r=".42"/></g><g id="n19_10"><circle cx="57" cy="30" r=".42"/></g><g id="n20_10"><circle cx="60" cy="30" r=".42"/></g>
</g>
</g>
</svg>
